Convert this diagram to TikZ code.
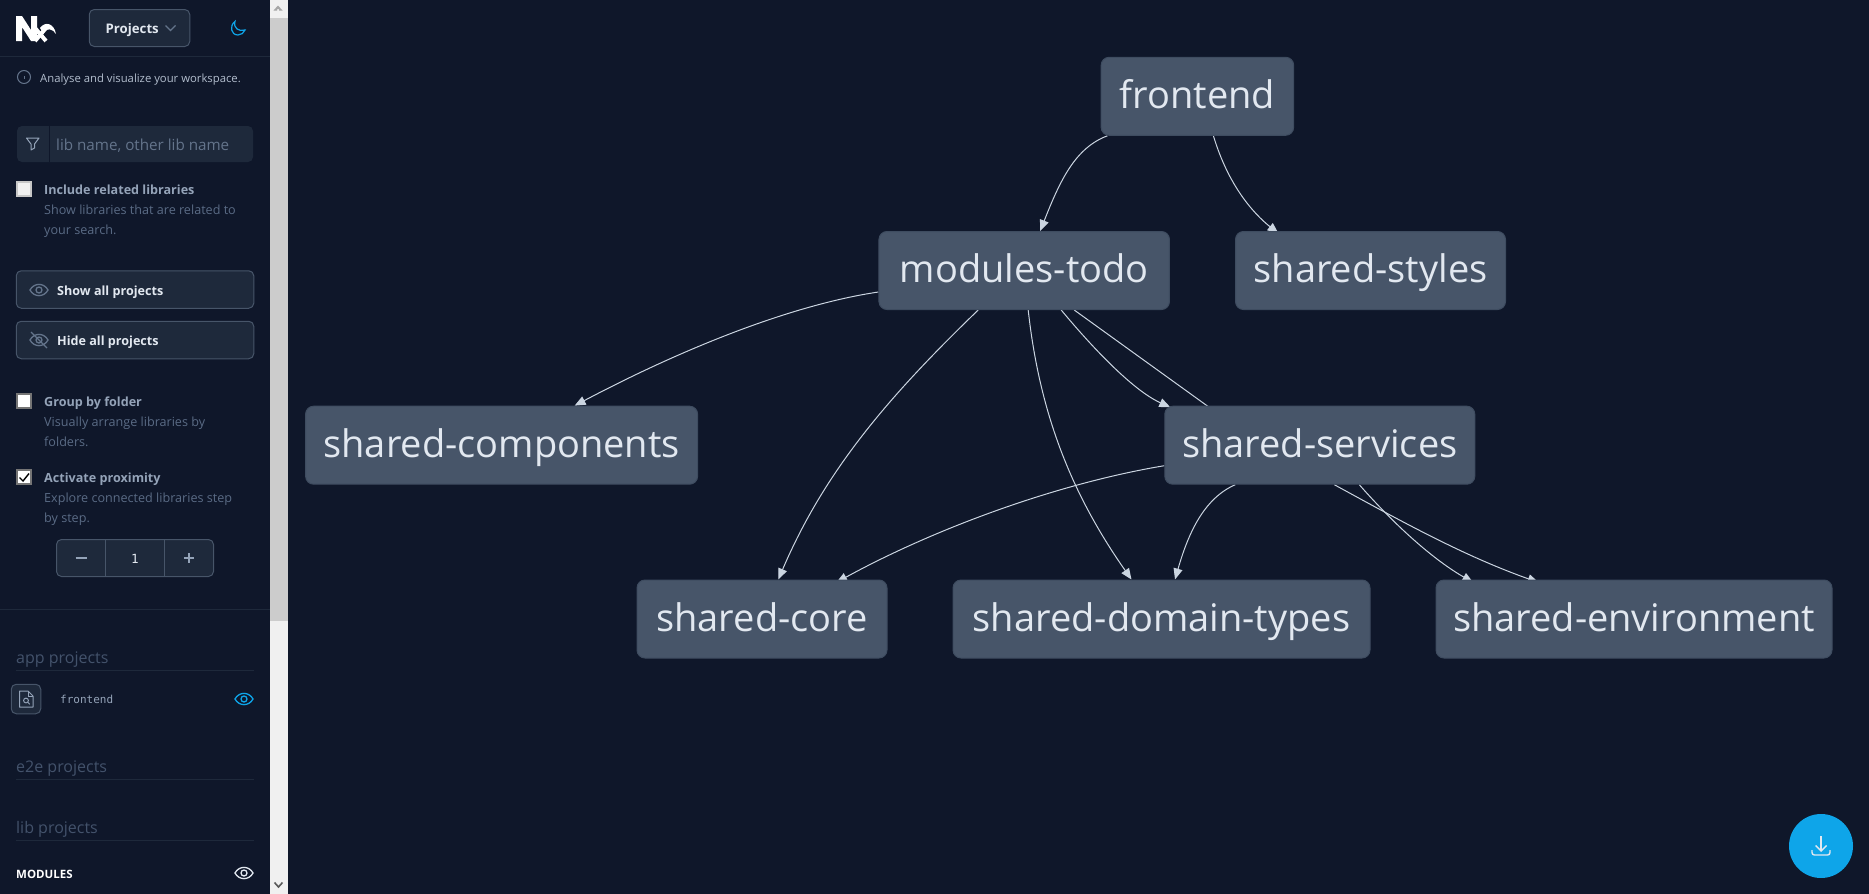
\documentclass[tikz,border=0pt]{standalone}
\usepackage{fontspec}
\setmainfont{Open Sans}
\newfontfamily\codefont{DejaVu Sans Mono}
\usetikzlibrary{arrows.meta}
\definecolor{pagebg}{HTML}{0F172A}
\definecolor{panelbg}{HTML}{1E293B}
\definecolor{nodefill}{HTML}{475569}
\definecolor{nodeline}{HTML}{3E4C60}
\definecolor{nodetext}{HTML}{E2E8F0}
\definecolor{edgegray}{HTML}{CBD5E1}
\definecolor{skyblue}{HTML}{0EA5E9}
\definecolor{titlegray}{HTML}{94A3B8}
\definecolor{hintgray}{HTML}{5A6B85}
\definecolor{sectiongray}{HTML}{43526B}
\definecolor{icongray}{HTML}{64748B}
\pgfdeclarelayer{base}
\pgfdeclarelayer{edges}
\pgfsetlayers{base,edges,main}
\tikzstyle{project}=[draw=nodeline, fill=nodefill, text=nodetext, rounded corners=8pt, line width=1pt, minimum height=78pt, inner sep=0pt, text height=30pt, text depth=6pt, font=\fontsize{38}{40}\selectfont]
\tikzstyle{depend}=[edgegray, line width=1pt, -{Triangle[length=11pt,width=9pt]}]
\tikzstyle{button}=[draw=nodefill, fill=panelbg, rounded corners=5pt, line width=1pt]
\tikzstyle{sidetext}=[anchor=base west, inner sep=0pt]
\tikzstyle{lead}=[sidetext, text=nodetext, font=\fontsize{12.6}{14}\bfseries\selectfont]
\tikzstyle{title}=[sidetext, text=titlegray, font=\fontsize{12.6}{14}\bfseries\selectfont]
\tikzstyle{hint}=[sidetext, text=hintgray, font=\fontsize{12.6}{14}\selectfont]
\tikzstyle{section}=[sidetext, text=sectiongray, font=\fontsize{16}{18}\selectfont]
\tikzstyle{rule}=[panelbg, line width=1pt]
\tikzset{eyeicon/.pic={
	\draw[pic actions, line width=1.3pt] (-9,0) .. controls (-5,-7.5) and (5,-7.5) .. (9,0) .. controls (5,7.5) and (-5,7.5) .. (-9,0) -- cycle;
	\draw[pic actions, line width=1.3pt] (0,0) circle (3);
}}

\begin{document}
\begin{tikzpicture}[x=1pt, y=-1pt]
	\useasboundingbox (0,0) rectangle (1869,894);
	\begin{pgfonlayer}{base}
		\fill[pagebg] (0,0) rectangle (1869,894);
		\fill[white!94!black] (270,0) rectangle (288,894);
		\fill[white!80!black] (270,18) rectangle (288,621);
	\end{pgfonlayer}
	\fill[white!65!black] (278,5.5) -- (282.5,10.5) -- (279,10.5) -- (279,9) -- (277,9) -- (277,10.5) -- (273.5,10.5) -- cycle;
	\draw[black!65, line width=1.6pt] (274.5,882.5) -- (278.5,887) -- (282.5,882.5);
	\node[project, minimum width=192.5pt] (frontend) at (1197.4,96.3) {frontend};
	\node[project, minimum width=290.5pt] (modulestodo) at (1024.2,270.5) {modules-todo};
	\node[project, minimum width=270pt] (sharedstyles) at (1370.5,270.5) {shared-styles};
	\node[project, minimum width=392pt] (sharedcomponents) at (501.6,445.2) {shared-components};
	\node[project, minimum width=310pt] (sharedservices) at (1319.8,445.2) {shared-services};
	\node[project, minimum width=250pt] (sharedcore) at (762,619) {shared-core};
	\node[project, minimum width=417pt] (shareddomain) at (1161.5,619) {shared-domain-types};
	\node[project, minimum width=396pt] (sharedenv) at (1634,619) {shared-environment};
	\begin{pgfonlayer}{edges}
		\draw[depend] ([xshift=-90pt]frontend.south) .. controls +(-32,12) and +(20,-51) .. ([xshift=16pt]modulestodo.north);
		\draw[depend] ([xshift=16pt]frontend.south) .. controls +(15,50) and +(-25,-20) .. ([shift={(-92,2.5)}]sharedstyles.north);
		\draw[depend] ([shift={(0,21.5)}]modulestodo.west) .. controls +(-88,13) and +(106,-56) .. ([xshift=73pt]sharedcomponents.north);
		\draw[depend] ([xshift=-46pt]modulestodo.south) .. controls +(-88,85) and +(47,-110) .. ([xshift=16.3pt]sharedcore.north);
		\draw[depend] ([xshift=4pt]modulestodo.south) .. controls +(12,110) and +(-56,-80) .. ([xshift=-30pt]shareddomain.north);
		\draw[depend] ([xshift=37pt]modulestodo.south) .. controls +(29,35) and +(-38,-17) .. ([shift={(-149.5,1.5)}]sharedservices.north);
		\draw[depend] ([xshift=50pt]modulestodo.south) -- ([shift={(-79.5,24)}]sharedservices.north);
		\draw[depend] ([shift={(0,20.5)}]sharedservices.west) .. controls +(-114,19) and +(91,-50) .. ([shift={(74.3,3)}]sharedcore.north);
		\draw[depend] ([xshift=-84.5pt]sharedservices.south) .. controls +(-30,13) and +(14,-49) .. ([xshift=13.5pt]shareddomain.north);
		\draw[depend] ([xshift=39.5pt]sharedservices.south) .. controls +(36,41) and +(-40,-23) .. ([shift={(-160.8,3)}]sharedenv.north);
		\draw[depend] ([xshift=14.5pt]sharedservices.south) .. controls +(66,36) and +(-76,-27) .. ([shift={(-95.3,3)}]sharedenv.north);
	\end{pgfonlayer}
	\fill[white] (16,16) -- (22,16) -- (31,30) -- (31,16) -- (37,16) -- (37,41) -- (31,41) -- (22,27) -- (22,41) -- (16,41) -- cycle;
	\draw[white, line width=4pt] (35,28) -- (46,41);
	\draw[white, line width=4pt] (35,41) -- (46,28);
	\fill[white] (40,28) .. controls (45,21) and (54,23) .. (56,34) .. controls (53,29) and (47,27) .. (43,33) -- cycle;
	\node[button, minimum width=100.5pt, minimum height=37pt] (projectsbtn) at (139.5,28) {};
	\node[lead, font=\fontsize{13.2}{14}\bfseries\selectfont] (projectslbl) at (105.5,33) {Projects};
	\draw[icongray, line width=1.2pt] (165.5,25.5) -- (170.5,30.5) -- (175.5,25.5);
	\draw[skyblue, line width=1.2pt] (235,21.5) .. controls (229,26) and (231,35) .. (238,35) .. controls (241,35) and (244,33) .. (245,30) .. controls (239,32) and (233,28) .. (235,21.5) -- cycle;
	\draw[rule] (0,56.5) -- (270,56.5);
	\draw[icongray, line width=1pt] (24,77) circle (6.5);
	\draw[icongray, line width=1pt] (24,76) -- (24,79);
	\node[sidetext, text=titlegray!60!nodetext, font=\fontsize{11.3}{13}\selectfont] (intro) at (40,82.5) {Analyse and visualize your workspace.};
	\fill[panelbg, rounded corners=5pt] (17,126) rectangle (253,162);
	\draw[pagebg, line width=1pt] (49.5,126) -- (49.5,162);
	\draw[titlegray, line width=1pt, line join=round] (26.5,138) -- (39,138) -- (34.5,144) -- (34.5,148) -- (31,150) -- (31,144) -- cycle;
	\node[sidetext, text=icongray, font=\fontsize{15.2}{18}\selectfont] (searchhint) at (56,150) {lib name, other lib name};
	\draw[draw=white!78!black, fill=white!94!black, line width=2pt] (17,182) rectangle (31,196);
	\node[title] (relatedlbl) at (44,194) {Include related libraries};
	\node[hint] (relatedhinta) at (44,214) {Show libraries that are related to};
	\node[hint] (relatedhintb) at (44,234) {your search.};
	\node[button, minimum width=237.5pt, minimum height=37.5pt] (showbtn) at (135,289.5) {};
	\pic[draw=icongray] at (39,290) {eyeicon};
	\node[lead] (showlbl) at (57,295) {Show all projects};
	\node[button, minimum width=237.5pt, minimum height=37.5pt] (hidebtn) at (135,340) {};
	\pic[draw=icongray] at (39,340) {eyeicon};
	\draw[icongray, line width=1.3pt] (31,332) -- (47,348);
	\node[lead] (hidelbl) at (57,345) {Hide all projects};
	\draw[draw=white!46!black, fill=white, line width=2pt] (17,394) rectangle (31,408);
	\node[title] (grouplbl) at (44,406) {Group by folder};
	\node[hint] (grouphinta) at (44,426) {Visually arrange libraries by};
	\node[hint] (grouphintb) at (44,446) {folders.};
	\draw[draw=white!46!black, fill=white, line width=2pt] (17,470) rectangle (31,484);
	\draw[black, line width=1.4pt] (19.5,477.5) -- (23,481) -- (29,473.5);
	\node[title] (proximitylbl) at (44,482) {Activate proximity};
	\node[hint] (proximityhinta) at (44,502) {Explore connected libraries step};
	\node[hint] (proximityhintb) at (44,522) {by step.};
	\node[button, minimum width=157pt, minimum height=37pt] (stepper) at (135,558) {};
	\draw[nodefill, line width=1pt] (105.5,539.5) -- (105.5,576.5);
	\draw[nodefill, line width=1pt] (164.5,539.5) -- (164.5,576.5);
	\draw[titlegray, line width=1.4pt] (75.5,558) -- (86.5,558);
	\draw[titlegray, line width=1.4pt] (184,558) -- (194,558);
	\draw[titlegray, line width=1.4pt] (189,553) -- (189,563);
	\node[sidetext, anchor=base, text=nodetext, font=\fontsize{12.6}{14}\codefont\selectfont] (stepcount) at (135,563) {1};
	\draw[rule] (0,609.5) -- (270,609.5);
	\node[section] (applbl) at (16,663) {app projects};
	\draw[rule] (16,670.5) -- (254,670.5);
	\node[button, minimum width=29.5pt, minimum height=29.5pt] (fileicon) at (26,699) {};
	\draw[titlegray, line width=1pt, line join=round] (19.5,691) -- (28,691) -- (33,696) -- (33,707) -- (19.5,707) -- cycle;
	\draw[titlegray, line width=1pt] (28,691) -- (28,696) -- (33,696);
	\draw[titlegray, line width=1pt] (26,700.5) circle (2.4);
	\draw[titlegray, line width=1pt] (27.8,702.3) -- (29.8,704.3);
	\node[sidetext, text=titlegray, font=\fontsize{11}{13}\codefont\selectfont] (frontendlbl) at (60,703) {frontend};
	\pic[draw=skyblue] at (244,699) {eyeicon};
	\node[section] (e2elbl) at (16,772) {e2e projects};
	\draw[rule] (16,779.5) -- (254,779.5);
	\node[section] (liblbl) at (16,833) {lib projects};
	\draw[rule] (16,840.5) -- (254,840.5);
	\node[sidetext, text=white, font=\fontsize{11.5}{14}\bfseries\selectfont] (moduleslbl) at (16,878) {MODULES};
	\pic[draw=nodetext] at (244,873) {eyeicon};
	\fill[skyblue] (1821,846) circle (32);
	\draw[nodetext, line width=1.4pt] (1821,836) -- (1821,851);
	\draw[nodetext, line width=1.4pt] (1815.5,845.5) -- (1821,851) -- (1826.5,845.5);
	\draw[nodetext, line width=1.4pt] (1812,850) -- (1812,852.5) .. controls (1812,854) and (1813,855) .. (1814.5,855) -- (1827.5,855) .. controls (1829,855) and (1830,854) .. (1830,852.5) -- (1830,850);
\end{tikzpicture}
\end{document}
